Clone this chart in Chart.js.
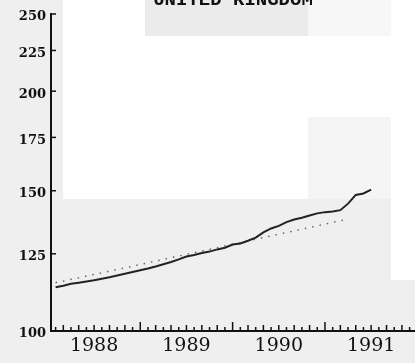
<!DOCTYPE html>
<html>
<head>
<meta charset="utf-8">
<script src="https://cdn.jsdelivr.net/npm/chart.js@4.4.1/dist/chart.umd.min.js"></script>
<style>
  html, body { margin: 0; padding: 0; background: #efefef; }
  #wrap { width: 415px; height: 363px; }
</style>
</head>
<body>
<div id="wrap"><canvas id="chart" width="415" height="363"></canvas></div>
<script>
// Chart title (only its lower half shows in the scan)
const TITLE = 'UNITED KINGDOM';

// Year labels, placed mid-year on a month axis (month 0 = Jan 1988)
const years = ['1988', '1989', '1990', '1991'];
const yTicks = [100, 125, 150, 175, 200, 225, 250];

// Index values, monthly from Feb 1988 (month 1)
const actual = [
  113.5, 114.0, 114.6, 115.0, 115.4, 115.8, 116.3, 116.8, 117.4, 118.0,
  118.6, 119.2, 119.8, 120.5, 121.3, 122.1, 123.0, 124.0, 124.6, 125.3,
  125.8, 126.6, 127.2, 128.4, 128.8, 129.8, 131.0, 133.0, 134.5, 135.5,
  137.0, 138.0, 138.7, 139.6, 140.5, 141.0, 141.3, 141.8, 144.5, 148.2,
  148.8, 150.5
];

// Trend line (dotted), monthly from Feb 1988
const trend = [
  115.0, 115.5, 116.1, 116.6, 117.2, 117.8, 118.3, 118.9, 119.5, 120.0,
  120.6, 121.2, 121.8, 122.4, 123.0, 123.6, 124.2, 124.8, 125.4, 126.0,
  126.6, 127.2, 127.9, 128.5, 129.1, 129.7, 130.4, 131.0, 131.6, 132.3,
  132.9, 133.6, 134.2, 134.9, 135.5, 136.2, 136.9, 137.5, 138.2
];

const toPoints = arr => arr.map((v, i) => ({ x: i + 1, y: v }));

// scanned page background: grey blocks with a few white patches
const paperBg = {
  id: 'paperBg',
  beforeDraw(chart) {
    const c = chart.ctx;
    c.save();
    c.fillStyle = '#efefef';
    c.fillRect(0, 0, 415, 363);
    c.fillStyle = '#ffffff';
    c.fillRect(63, 0, 82, 36);
    c.fillRect(63, 36, 245, 163);
    c.fillRect(308, 36, 83, 81);
    c.fillRect(391, 0, 24, 280);
    c.fillStyle = '#ebebeb';
    c.fillRect(145, 0, 163, 36);
    c.fillStyle = '#f7f7f7';
    c.fillRect(308, 0, 83, 36);
    c.fillStyle = '#f5f5f5';
    c.fillRect(308, 117, 83, 82);
    c.restore();
  }
};

// tick marks point into the plot, plus the clipped title
const innerTicks = {
  id: 'innerTicks',
  afterDraw(chart) {
    const c = chart.ctx;
    const xs = chart.scales.x, ys = chart.scales.y;
    const area = chart.chartArea;
    c.save();
    c.strokeStyle = '#111';
    c.lineWidth = 1.5;
    xs.ticks.forEach(t => {
      const px = xs.getPixelForValue(t.value);
      const h = t.value % 12 === 0 ? 9 : (t.value % 2 === 0 ? 6 : 4);
      c.beginPath();
      c.moveTo(px, area.bottom);
      c.lineTo(px, area.bottom - h);
      c.stroke();
    });
    ys.ticks.forEach(t => {
      const py = ys.getPixelForValue(t.value);
      c.beginPath();
      c.moveTo(area.left, py);
      c.lineTo(area.left + 5, py);
      c.stroke();
    });
    c.fillStyle = '#111';
    c.font = 'bold 19px "Liberation Mono", monospace';
    c.textAlign = 'center';
    c.textBaseline = 'alphabetic';
    c.fillText(TITLE, 233, 5);
    c.restore();
  }
};

const ctx = document.getElementById('chart').getContext('2d');
new Chart(ctx, {
  type: 'line',
  data: {
    datasets: [
      {
        data: toPoints(actual),
        borderColor: '#222',
        borderWidth: 2,
        pointRadius: 0,
        tension: 0
      },
      {
        data: toPoints(trend),
        borderColor: '#666',
        borderWidth: 1.5,
        borderDash: [1.5, 6],
        pointRadius: 0,
        tension: 0
      }
    ]
  },
  options: {
    responsive: false,
    animation: false,
    devicePixelRatio: 1,
    layout: { padding: { top: 14, left: 0, right: 0, bottom: 0 } },
    plugins: { legend: { display: false }, tooltip: { enabled: false } },
    scales: {
      x: {
        type: 'linear',
        min: 0.4,
        max: 47.7,
        afterBuildTicks: scale => {
          const ticks = [];
          for (let m = 1; m <= 47; m++) ticks.push({ value: m });
          scale.ticks = ticks;
        },
        afterFit: scale => { scale.height = 32; },
        grid: { display: true, drawOnChartArea: false, drawTicks: false },
        border: { display: true, color: '#111', width: 2 },
        ticks: {
          autoSkip: false,
          maxRotation: 0,
          padding: 4,
          color: '#111',
          font: { family: '"DejaVu Serif", serif', size: 19 },
          callback: v => (v % 12 === 6 ? years[(v - 6) / 12] : '')
        }
      },
      y: {
        type: 'logarithmic',
        min: 100,
        max: 250,
        afterBuildTicks: scale => {
          scale.ticks = yTicks.map(v => ({ value: v }));
        },
        afterFit: scale => { scale.width = 51; },
        grid: { display: true, drawOnChartArea: false, drawTicks: false },
        border: { display: true, color: '#111', width: 2 },
        ticks: {
          padding: 5,
          labelOffset: 3,
          color: '#111',
          font: { family: '"DejaVu Serif", serif', size: 13, weight: 'bold' },
          callback: v => String(v)
        }
      }
    }
  },
  plugins: [paperBg, innerTicks]
});
</script>
</body>
</html>
